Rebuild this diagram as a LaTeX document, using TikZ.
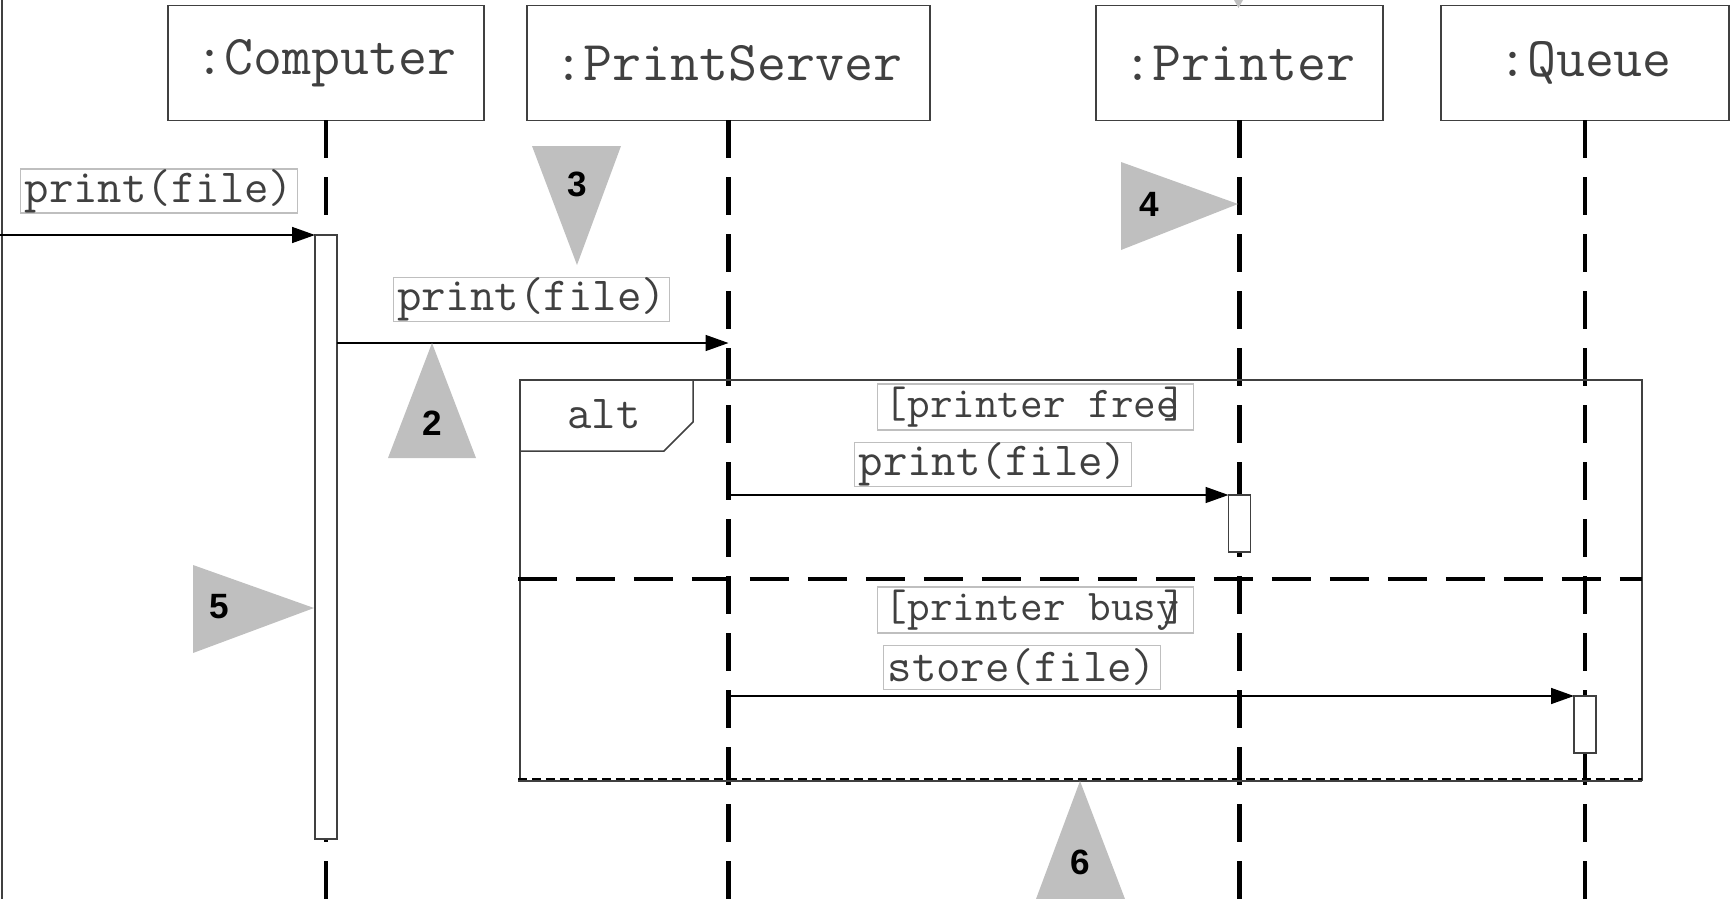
\documentclass[tikz,border=0pt]{standalone}
\usepackage{fontspec}
\usetikzlibrary{arrows.meta}
\newfontfamily\numfont{Liberation Sans}
\tikzset{
obj/.style={draw=black!75,line width=1.1pt,inner sep=0,outer sep=0,minimum height=2.3cm,font=\fontsize{32}{34}\ttfamily,text=black!75},
life/.style={line width=2.3pt,dash pattern=on .76cm off .38cm},
act/.style={draw=black!75,fill=white,line width=.8pt,inner sep=0,outer sep=0,minimum width=.44cm,anchor=north},
msg/.style={-{Triangle[length=.46cm,width=.32cm]},line width=.85pt,draw=black},
lbl/.style={draw=black!25,fill=white,line width=.6pt,inner xsep=.08cm,inner ysep=0,minimum height=.88cm,font=\fontsize{27}{29}\ttfamily,text=black!75},
guard/.style={lbl,inner xsep=.14cm,minimum height=.92cm,font=\fontsize{25}{27}\ttfamily},
frm/.style={draw=black!75,line width=.85pt},
tri/.style={fill=black!25},
num/.style={font=\fontsize{20}{22}\numfont\bfseries}
}
\begin{document}
\begin{tikzpicture}[x=.02cm,y=-.02cm]
\useasboundingbox(0,0)rectangle(1732,899);
\draw[frm](2,0)--(2,899);
\node[obj,minimum width=6.32cm](comp)at(326,63){:Computer};
\node[obj,minimum width=8.06cm](ps)at(728.5,63){:PrintServer};
\node[obj,minimum width=5.74cm](prn)at(1239.5,63){:Printer};
\node[obj,minimum width=5.76cm](q)at(1585,63){:Queue};
\coordinate(bot)at(0,899);
\foreach \o in {comp,ps,prn,q}\draw[life](\o.south)--(\o|-bot);
\draw[frm](520,781)--(520,380)--(1642,380)--(1642,781);
\draw[frm](520,451)--(664,451)--(693,422)--(693,380);
\node[font=\fontsize{27}{29}\ttfamily,text=black!75](alt)at(604,414){alt};
\draw[line width=2.8pt,dash pattern=on .78cm off .38cm](518,579)--(1642,579);
\draw[frm](518,781)--(1642,781);\draw[line width=1.6pt,dash pattern=on .18cm off .1cm](518,779)--(1642,779);
\node[act,minimum height=12.08cm](act1)at(326,235){};
\node[act,minimum height=1.14cm](act2)at(1239.5,495){};
\node[act,minimum height=1.14cm](act3)at(1585,696){};
\coordinate(m1s)at(0,235);\coordinate(y2)at(0,343);
\draw[msg](m1s)--(act1.north west);
\draw[msg](act1.east|-y2)--(ps|-y2);
\draw[msg](ps|-act2.north)--(act2.north west);
\draw[msg](ps|-act3.north)--(act3.north west);
\node[lbl](l1)at(159,191){print(file)};
\node[lbl](l2)at(531.5,299.5){print(file)};
\node[guard](g1)at(1035.5,407){[printer free\kern-.35em]};
\node[lbl](l3)at(993,464.5){print(file)};
\node[guard](g2)at(1035.5,610){[printer busy\kern-.35em]};
\node[lbl](l4)at(1022,667.5){store(file)};
\fill[tri](1234,0)--(1243,0)--(1238.5,8)--cycle;
\fill[tri](432,343)--(476,458)--(388,458)--cycle;\node[num](n2)at(432,423){2};
\fill[tri](532,146)--(621,146)--(577,265)--cycle;\node[num](n3)at(577,184){3};
\fill[tri](1121,162)--(1238,204)--(1121,250)--cycle;\node[num](n4)at(1149,204){4};
\fill[tri](193,565)--(314,608)--(193,653)--cycle;\node[num](n5)at(219,607){5};
\fill[tri](1080,781)--(1125,899)--(1036,899)--cycle;\node[num](n6)at(1080,862){6};
\end{tikzpicture}
\end{document}
